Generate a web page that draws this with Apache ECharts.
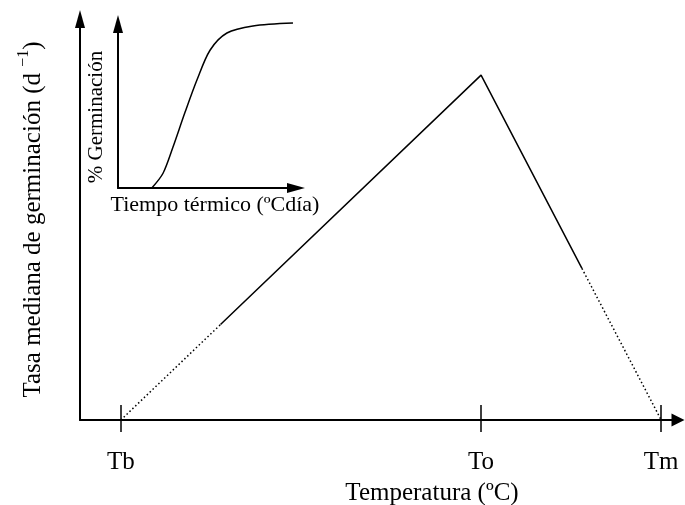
<!DOCTYPE html>
<html>
<head>
<meta charset="utf-8">
<script src="https://cdn.jsdelivr.net/npm/echarts@6/dist/echarts.min.js"></script>
<style>html,body{margin:0;padding:0;background:#fff}#c{width:685px;height:505px}</style>
</head>
<body>
<div id="c"></div>
<script>
// Main panel: germination rate vs temperature (conceptual)
const tickValues = [5, 35, 50];
const tickLabels = ['Tb', 'To', 'Tm'];
const solidTemp = [13.3, 35, 43.4];
const solidRate = [0.238, 0.86, 0.378];
const dotLeftTemp = [5, 13.3];
const dotLeftRate = [0, 0.238];
const dotRightTemp = [43.4, 50];
const dotRightRate = [0.378, 0];
// Inset: % germination vs thermal time
const insetTime = [19, 25.3, 30.9, 37.6, 44.4, 51.7, 61.2, 75.8, 98.3];
const insetGerm = [0, 9, 25, 46, 66, 84, 94.5, 98.8, 100.6];

const FONT = "'Liberation Serif','Times New Roman',serif";
const zip = (a, b) => a.map((v, i) => [v, b[i]]);
const labelMap = {};
tickValues.forEach((v, i) => labelMap[v] = tickLabels[i]);

const chart = echarts.init(document.getElementById('c'));
chart.setOption({
  animation: false,
  backgroundColor: '#fff',
  grid: [
    {left: 80, right: 7, top: 19, bottom: 85, containLabel: false, outerBoundsMode: 'none'},
    {left: 118, right: 389, top: 24, bottom: 317, containLabel: false, outerBoundsMode: 'none'}
  ],
  xAxis: [
    {
      type: 'value', gridIndex: 0, min: 1.6, max: 51.4,
      axisLine: {show: true, lineStyle: {color: '#000', width: 2}, symbol: ['none', 'triangle'], symbolSize: [13, 13]},
      axisTick: {show: true, inside: false, length: 12, customValues: tickValues, lineStyle: {color: '#000', width: 1.5}},
      axisLabel: {show: true, customValues: tickValues, formatter: v => labelMap[v] || '', margin: 30, color: '#000', fontSize: 25, fontFamily: FONT},
      splitLine: {show: false},
      name: 'Temperatura (ºC)', nameLocation: 'middle', nameGap: 61,
      nameTextStyle: {color: '#000', fontSize: 25, fontFamily: FONT, padding: [0, 0, 0, 106]}
    },
    {
      type: 'value', gridIndex: 0, min: 1.6, max: 51.4, position: 'bottom',
      axisLine: {show: false},
      axisTick: {show: true, inside: true, length: 15, customValues: tickValues, lineStyle: {color: '#000', width: 1.5}},
      axisLabel: {show: false},
      splitLine: {show: false}
    },
    {
      type: 'value', gridIndex: 1, min: 0, max: 100,
      axisLine: {show: true, lineStyle: {color: '#000', width: 2}, symbol: ['none', 'triangle'], symbolSize: [10, 18]},
      axisTick: {show: false}, axisLabel: {show: false}, splitLine: {show: false},
      name: 'Tiempo térmico (ºCdía)', nameLocation: 'middle', nameGap: 6,
      nameTextStyle: {color: '#000', fontSize: 22, fontFamily: FONT, padding: [0, 0, 0, 16]}
    }
  ],
  yAxis: [
    {
      type: 'value', gridIndex: 0, min: 0, max: 1,
      axisLine: {show: true, lineStyle: {color: '#000', width: 2}, symbol: ['none', 'triangle'], symbolSize: [10, 18]},
      axisTick: {show: false}, axisLabel: {show: false}, splitLine: {show: false},
      name: '{n|Tasa mediana de germinación (d }{s|−1}{n|)}', nameLocation: 'middle', nameGap: 34, nameRotate: 90,
      nameTextStyle: {
        color: '#000', fontSize: 25, fontFamily: FONT,
        rich: {
          n: {fontSize: 25, fontFamily: FONT, color: '#000', lineHeight: 30, verticalAlign: 'bottom'},
          s: {fontSize: 16, fontFamily: FONT, color: '#000', lineHeight: 30, verticalAlign: 'top', padding: [0, 0, 12, 0]}
        }
      }
    },
    {
      type: 'value', gridIndex: 1, min: 0, max: 100,
      axisLine: {show: true, lineStyle: {color: '#000', width: 2}, symbol: ['none', 'triangle'], symbolSize: [10, 18]},
      axisTick: {show: false}, axisLabel: {show: false}, splitLine: {show: false},
      name: '% Germinación', nameLocation: 'middle', nameGap: 11, nameRotate: 90,
      nameTextStyle: {color: '#000', fontSize: 21, fontFamily: FONT, padding: [0, 22, 0, 0]}
    }
  ],
  series: [
    {type: 'line', xAxisIndex: 0, yAxisIndex: 0, data: zip(solidTemp, solidRate), symbol: 'none',
     lineStyle: {color: '#000', width: 1.5}, clip: false},
    {type: 'line', xAxisIndex: 0, yAxisIndex: 0, data: zip(dotLeftTemp, dotLeftRate), symbol: 'none',
     lineStyle: {color: '#000', width: 1.5, type: [1.5, 2.5]}, clip: false},
    {type: 'line', xAxisIndex: 0, yAxisIndex: 0, data: zip(dotRightTemp, dotRightRate), symbol: 'none',
     lineStyle: {color: '#000', width: 1.5, type: [1.5, 2.5]}, clip: false},
    {type: 'line', xAxisIndex: 2, yAxisIndex: 1, data: zip(insetTime, insetGerm), symbol: 'none', smooth: 0.3,
     lineStyle: {color: '#000', width: 1.5}, clip: false}
  ]
});
</script>
</body>
</html>
